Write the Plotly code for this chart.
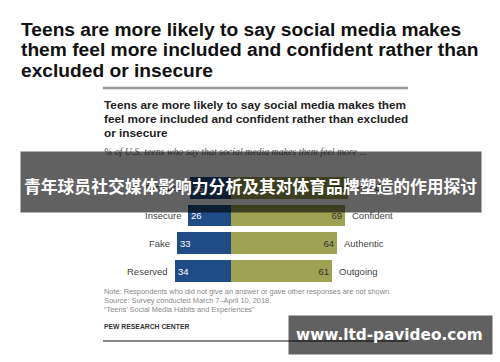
import plotly.graph_objects as go

# ---- data ----
left_labels = ["Excluded", "Insecure", "Fake", "Reserved"]
right_labels = ["Included", "Confident", "Authentic", "Outgoing"]
left_values = [25, 26, 33, 34]
right_values = [71, 69, 64, 61]

title_lines = [
    "Teens are more likely to say social media makes",
    "them feel more included and confident rather than",
    "excluded or insecure",
]
inner_title_lines = [
    "Teens are more likely to say social media makes them",
    "feel more included and confident rather than excluded",
    "or insecure",
]
subtitle = "% of U.S. teens who say that social media makes them feel more ..."
note_lines = [
    "Note: Respondents who did not give an answer or gave other responses are not shown.",
    "Source: Survey conducted March 7\u2013April 10, 2018.",
    "\u201cTeens\u2019 Social Media Habits and Experiences\u201d",
]
source_org = "PEW RESEARCH CENTER"
banner_text = "青年球员社交媒体影响力分析及其对体育品牌塑造的作用探讨"
watermark = "www.ltd-pavideo.com"

W, H = 500, 362
def px(x):
    return x / W
def py(y):
    return 1 - y / H

BLUE = "#1f4c87"
OLIVE = "#9ea252"
SANS = "Liberation Sans, Arial, sans-serif"

fig = go.Figure()
fig.add_trace(go.Bar(
    y=right_labels, x=[-v for v in left_values], orientation="h",
    marker=dict(color=BLUE, line=dict(width=0)), width=0.79,
    text=[str(v) for v in left_values], textposition="inside",
    insidetextanchor="end", constraintext="none",
    textfont=dict(color="white", size=9.5, family=SANS),
    hoverinfo="skip",
))
fig.add_trace(go.Bar(
    y=right_labels, x=right_values, orientation="h",
    marker=dict(color=OLIVE, line=dict(width=0)), width=0.79,
    text=[str(v) for v in right_values], textposition="inside",
    insidetextanchor="end", constraintext="none",
    textfont=dict(color="#333333", size=9.5, family=SANS),
    hoverinfo="skip",
))

ann = []
# side labels
for lab, rl, lv, rv in zip(left_labels, right_labels, left_values, right_values):
    ann.append(dict(xref="x", yref="y", x=-lv, y=rl, text=lab, showarrow=False,
                    xanchor="right", xshift=-5, font=dict(size=9.5, color="#444444", family=SANS)))
    ann.append(dict(xref="x", yref="y", x=rv, y=rl, text=rl, showarrow=False,
                    xanchor="left", xshift=5, font=dict(size=9.5, color="#444444", family=SANS)))

# main title
for i, t in enumerate(title_lines):
    ann.append(dict(xref="paper", yref="paper", x=px(19), y=py(29.5 + 20.5 * i), text="<b>" + t + "</b>",
                    showarrow=False, xanchor="left", yanchor="middle",
                    font=dict(size=19.2, color="#111111", family=SANS)))
# inner title
for i, t in enumerate(inner_title_lines):
    ann.append(dict(xref="paper", yref="paper", x=px(102), y=py(104.5 + 14 * i), text="<b>" + t + "</b>",
                    showarrow=False, xanchor="left", yanchor="middle",
                    font=dict(size=11.8, color="#222222", family=SANS)))
ann.append(dict(xref="paper", yref="paper", x=px(102), y=py(151), text="<i>" + subtitle + "</i>",
                showarrow=False, xanchor="left", yanchor="middle",
                font=dict(size=9.85, color="#666666", family="Liberation Serif, serif")))
for i, t in enumerate(note_lines):
    ann.append(dict(xref="paper", yref="paper", x=px(102), y=py(291 + 9 * i), text=t,
                    showarrow=False, xanchor="left", yanchor="middle",
                    font=dict(size=7.4, color="#888888", family=SANS)))
ann.append(dict(xref="paper", yref="paper", x=px(102), y=py(326), text="<b>" + source_org + "</b>",
                showarrow=False, xanchor="left", yanchor="middle",
                font=dict(size=6.8, color="#333333", family=SANS)))

# overlay banners (drawn last so they sit on top)
ann.append(dict(xref="paper", yref="paper", x=px(20), y=py(151), text=" ", showarrow=False,
                xanchor="left", yanchor="top", width=460, height=60, borderpad=0,
                bgcolor="rgba(0,0,0,0.62)", font=dict(size=2)))
ann.append(dict(xref="paper", yref="paper", x=px(250), y=py(186), text="<b>" + banner_text + "</b>",
                showarrow=False, xanchor="center", yanchor="middle",
                font=dict(size=16.8, color="white", family="Noto Sans CJK SC")))
ann.append(dict(xref="paper", yref="paper", x=px(288), y=py(315), text=" ", showarrow=False,
                xanchor="left", yanchor="top", width=203, height=38, borderpad=0,
                bgcolor="rgba(0,0,0,0.62)", font=dict(size=2)))
ann.append(dict(xref="paper", yref="paper", x=px(389), y=py(335), text="<b>" + watermark + "</b>",
                showarrow=False, xanchor="center", yanchor="middle",
                font=dict(size=15.3, color="white", family="DejaVu Sans, sans-serif")))

shapes = [
    dict(type="line", xref="paper", yref="paper", x0=px(103), x1=px(408), y0=py(88), y1=py(88),
         line=dict(color="#999999", width=2.5)),
    dict(type="line", xref="paper", yref="paper", x0=px(103), x1=px(408), y0=py(341), y1=py(341),
         line=dict(color="#888888", width=2)),
]

fig.update_layout(
    width=W, height=H, margin=dict(l=0, r=0, t=0, b=0),
    paper_bgcolor="white", plot_bgcolor="white",
    barmode="relative", bargap=0, showlegend=False,
    xaxis=dict(visible=False, range=[-231 / 1.65, 269 / 1.65], fixedrange=True),
    yaxis=dict(visible=False, type="category", categoryorder="array", categoryarray=right_labels,
               range=[(362 - 187.75) / 27.75, -187.75 / 27.75], fixedrange=True),
    annotations=ann, shapes=shapes,
)

fig.write_html(
    "out.html",
    config={"displayModeBar": False},
    post_script="document.body.style.margin='0';document.body.style.padding='0';document.body.style.overflow='hidden';",
)
